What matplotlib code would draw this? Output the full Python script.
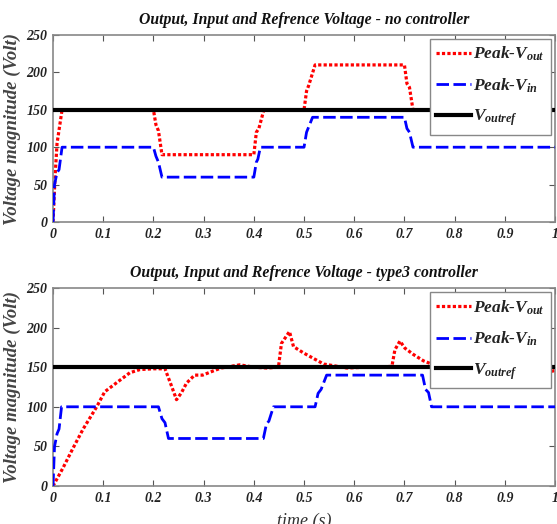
import numpy as np
import matplotlib
matplotlib.use("Agg")
import matplotlib.pyplot as plt

plt.rcParams['font.family'] = ['Liberation Serif', 'DejaVu Serif']
plt.rcParams['mathtext.fontset'] = 'custom'
plt.rcParams['mathtext.it'] = 'Liberation Serif:italic:bold'
plt.rcParams['mathtext.rm'] = 'Liberation Serif:italic:bold'

# top panel - no controller
t_in_a = [0, 0.003, 0.008, 0.012, 0.018, 0.2, 0.205, 0.21, 0.217, 0.4, 0.405, 0.408, 0.413,
          0.5, 0.505, 0.508, 0.517, 0.7, 0.705, 0.71, 0.717, 1.0]
v_in_a = [0, 50, 66, 70, 100, 100, 88, 80, 60, 60, 80, 84, 100,
          100, 120, 125, 140, 140, 125, 120, 100, 100]
t_out_a = [0, 0.004, 0.008, 0.018, 0.2, 0.205, 0.21, 0.217, 0.4, 0.405, 0.41, 0.42,
           0.5, 0.505, 0.509, 0.522, 0.7, 0.705, 0.71, 0.717, 1.0]
v_out_a = [0, 60, 105, 150, 150, 130, 122, 90, 90, 120, 125, 150,
           150, 175, 182, 210, 210, 185, 180, 150, 150]

# bottom panel - type3 controller
t_in_b = [0, 0.003, 0.008, 0.012, 0.017, 0.21, 0.217, 0.223, 0.23, 0.419, 0.425, 0.43, 0.439,
          0.522, 0.528, 0.534, 0.545, 0.736, 0.742, 0.748, 0.754, 1.0]
v_in_b = [0, 50, 66, 72, 100, 100, 85, 80, 60, 60, 78, 82, 100,
          100, 117, 122, 140, 140, 122, 118, 100, 100]
t_out_b = [0, 0.02, 0.04, 0.06, 0.087, 0.103, 0.13, 0.153, 0.173, 0.2, 0.223, 0.235, 0.246,
           0.256, 0.266, 0.282, 0.298, 0.318, 0.335, 0.372, 0.4, 0.426, 0.449, 0.455, 0.471,
           0.479, 0.499, 0.519, 0.539, 0.558, 0.585, 0.625, 0.675, 0.681, 0.691, 0.701, 0.718,
           0.738, 0.758, 0.78, 0.8, 0.85, 0.9, 0.908, 0.916, 0.924, 0.93, 0.96, 0.985, 0.995, 1.0]
v_out_b = [0, 23, 48, 72, 100, 119, 132, 143, 147, 148, 148, 128, 109,
           118, 130, 140, 140, 145, 149, 153, 150, 149, 150, 180, 195,
           176, 168, 161, 154, 152, 149, 150, 151, 172, 183, 174, 166,
           158, 153, 150, 150, 150, 149, 138, 126, 140, 150, 150, 150, 145, 146]

v_ref = 150
t_ref = [0, 1]

labels = ['Peak-$V_{out}$', 'Peak-$V_{in}$', '$V_{outref}$']
titles = ['Output, Input and Refrence Voltage - no controller',
          'Output, Input and Refrence Voltage - type3 controller']

fig = plt.figure(figsize=(5.57, 5.24), dpi=100)
ax1 = fig.add_axes([0.0952, 0.5763, 0.9013, 0.3569])
ax2 = fig.add_axes([0.0952, 0.0725, 0.9013, 0.3779])

panels = [(ax1, t_out_a, v_out_a, t_in_a, v_in_a), (ax2, t_out_b, v_out_b, t_in_b, v_in_b)]
for i, (ax, to, vo, ti, vi) in enumerate(panels):
    ax.plot(to, vo, color='red', linestyle=(0, (1, 0.7)), linewidth=2.3, label=labels[0], zorder=2)
    ax.plot(ti, vi, color='blue', linestyle=(0, (4.5, 1.6)), linewidth=2.0, label=labels[1], zorder=3)
    ax.plot(t_ref, [v_ref, v_ref], color='black', linewidth=3.0, label=labels[2], zorder=4)
    ax.set_xlim(0, 1)
    ax.set_ylim(0, 250)
    ax.set_xticks(np.arange(0, 1.01, 0.1))
    ax.set_xticklabels(['0', '0.1', '0.2', '0.3', '0.4', '0.5', '0.6', '0.7', '0.8', '0.9', '1'])
    ax.set_yticks([0, 50, 100, 150, 200, 250])
    ax.tick_params(direction='in', top=True, right=True, length=4, width=0.8,
                   color='#555555', labelsize=10, pad=4)
    for lab in ax.get_xticklabels() + ax.get_yticklabels():
        lab.set_fontstyle('italic')
        lab.set_fontweight('bold')
        lab.set_color('#222222')
    for sp in ax.spines.values():
        sp.set_color('#888888')
        sp.set_linewidth(1.2)
    ax.set_title(titles[i], fontsize=11.3, fontstyle='italic', fontweight='bold', pad=8,
                 color='#111111')
    ax.set_ylabel('Voltage magnitude (Volt)', fontsize=13.5, fontstyle='italic',
                  fontweight='bold', color='#444444')
    ax.yaxis.set_label_coords(-0.064, 0.5)
    leg = ax.legend(loc='upper right', bbox_to_anchor=(0.992, 0.979), borderaxespad=0,
                    fancybox=False, framealpha=1, edgecolor='#888888', fontsize=12.5,
                    handlelength=2.0, handletextpad=0.15, borderpad=0.35, labelspacing=0.75)
    leg.get_frame().set_linewidth(1.0)
    for txt in leg.get_texts():
        txt.set_fontstyle('italic')
        txt.set_fontweight('bold')
        txt.set_color('#222222')

ax2.set_xlabel('time (s)', fontsize=13, fontstyle='italic', color='#333333', labelpad=6)

fig.savefig('out.png', dpi=100)
